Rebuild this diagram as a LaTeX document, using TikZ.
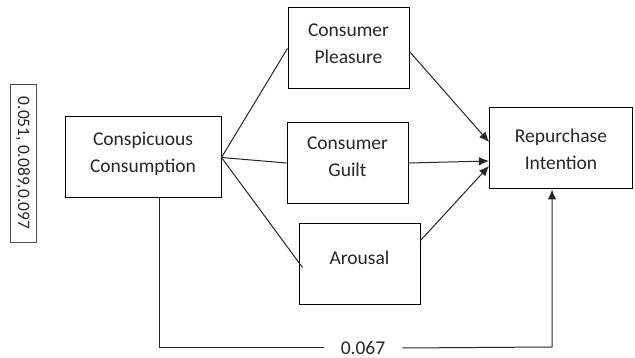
\documentclass[tikz,border=0pt]{standalone}
\usepackage{fontspec}
\setmainfont{Carlito}
\usetikzlibrary{arrows.meta,calc}
\begin{document}
\begin{tikzpicture}[x=1pt,y=1pt,
  box/.style={draw=black,line width=1pt,minimum width=#1,inner sep=0pt,minimum height=81pt},
  txt/.style={align=center,font=\fontsize{19.5}{27}\selectfont,text=black!85},
  conn/.style={draw=black!85,line width=1pt},
  arr/.style={conn,-{Latex[length=10pt,width=8.5pt]}}]
\useasboundingbox (0,0) rectangle (635,358);
\node[box=156pt,label={[txt,yshift=4pt]center:Conspicuous\\Consumption}] (cc) at (143,200.5) {};
\node[box=121pt,label={[txt,yshift=5pt]center:Consumer\\Pleasure}] (cp) at (348.5,309.5) {};
\node[box=121pt,label={[txt,yshift=6pt]center:Consumer\\Guilt}] (cg) at (347.5,195) {};
\node[box=121pt,label={[txt,yshift=7pt]center:Arousal}] (ar) at (359.5,93.5) {};
\node[box=143pt,label={[txt,yshift=-1pt]center:Repurchase\\Intention}] (ri) at (561,209.5) {};
\node[draw=black!70,line width=0.7pt,rotate=-90,minimum width=158pt,minimum height=26pt,inner sep=0pt,
  font=\fontsize{17.5}{20}\selectfont,text=black!85] (vals) at (23,195) {0.051, 0.089,0.097};
\node[font=\fontsize{19.5}{24}\selectfont,text=black!85,inner xsep=17pt,inner ysep=2pt] (v) at (363,10) {0.067};
\coordinate (c1) at (159,10);
\coordinate (c2) at (552,11);
% from conspicuous consumption to mediators
\draw[conn] (cc.east) -- (cp.west);
\draw[conn] (cc.east) -- (cg.west);
\draw[conn] (cc.east) -- ([xshift=4pt,yshift=-3pt]ar.west);
% mediators to repurchase intention
\draw[arr] ([yshift=-3pt]cp.east) -- ([yshift=6.5pt]ri.west);
\draw[arr] (cg.east) -- ([yshift=-12.5pt]ri.west);
\draw[arr] ([yshift=24pt]ar.east) -- ([yshift=-17.5pt]ri.west);
% direct path
\draw[conn] (cc.south -| c1) -- (c1) -- (v.west);
\draw[arr] (v.east) -- (c2) -- (c2 |- ri.south);
\end{tikzpicture}
\end{document}
